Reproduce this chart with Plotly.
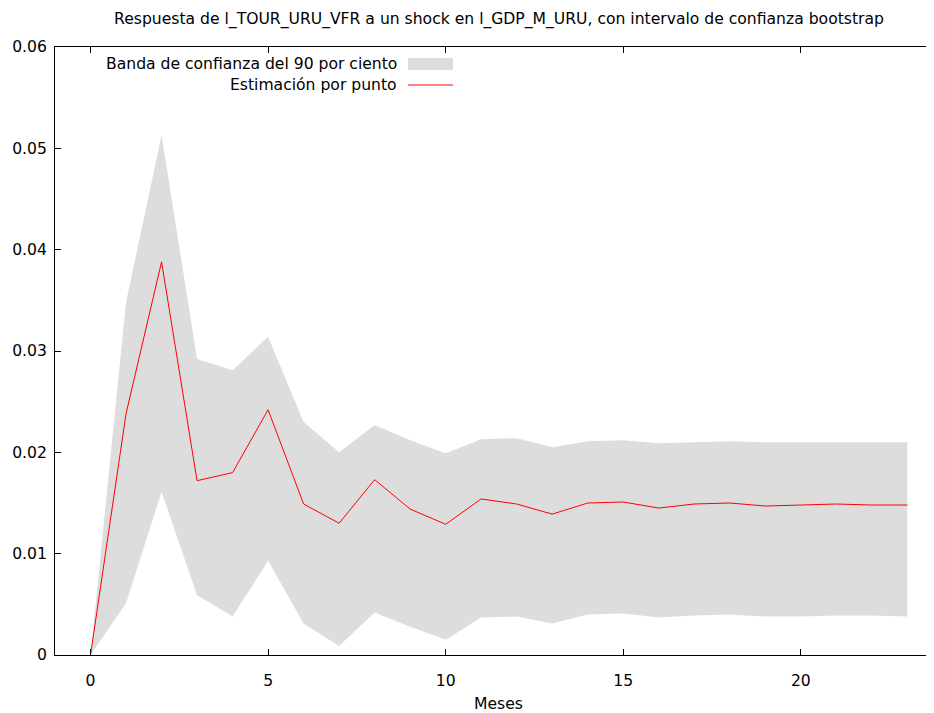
import plotly.graph_objects as go

meses = list(range(24))
estimacion = [0.0, 0.0238, 0.0388, 0.0172, 0.0180, 0.0242, 0.0149, 0.0130, 0.0173, 0.0144,
              0.0129, 0.0154, 0.0149, 0.0139, 0.0150, 0.0151, 0.0145, 0.0149, 0.0150, 0.0147,
              0.0148, 0.0149, 0.0148, 0.0148]
banda_sup = [0.0, 0.0348, 0.0513, 0.0292, 0.0281, 0.0314, 0.0230, 0.0200, 0.0227, 0.0212,
             0.0199, 0.0213, 0.0214, 0.0205, 0.0211, 0.0212, 0.0209, 0.0210, 0.0211, 0.0210,
             0.0210, 0.0210, 0.0210, 0.0210]
banda_inf = [0.0, 0.0051, 0.0161, 0.0059, 0.0038, 0.0093, 0.0031, 0.0009, 0.0042, 0.0028,
             0.0015, 0.0037, 0.0038, 0.0031, 0.0040, 0.0041, 0.0037, 0.0039, 0.0040, 0.0038,
             0.0038, 0.0039, 0.0039, 0.0038]
x_ticks = [0, 5, 10, 15, 20]
x_ticktext = ["0", "5", "10", "15", "20"]
y_ticks = [0, 0.01, 0.02, 0.03, 0.04, 0.05, 0.06]
y_ticktext = ["0", "0.01", "0.02", "0.03", "0.04", "0.05", "0.06"]

title = "Respuesta de l_TOUR_URU_VFR a un shock en l_GDP_M_URU, con intervalo de confianza bootstrap"
x_title = "Meses"
leg_band = "Banda de confianza del 90 por ciento"
leg_line = "Estimación por punto"

FONT = "DejaVu Sans"
FS = 15.6
OFF = 8  # default page body margin
W, H = 934 - OFF, 713 - OFF
ML, MR, MT, MB = 55 - OFF, 0, 47 - OFF, 58

fig = go.Figure()
fig.add_trace(go.Scatter(x=meses, y=banda_inf, mode="lines", line=dict(width=0, color="#dddddd"),
                         showlegend=False, hoverinfo="skip"))
fig.add_trace(go.Scatter(x=meses, y=banda_sup, mode="lines", line=dict(width=0, color="#dddddd"),
                         fill="tonexty", fillcolor="#dddddd", showlegend=False, hoverinfo="skip"))
fig.add_trace(go.Scatter(x=meses, y=estimacion, mode="lines", line=dict(width=1, color="#ff0000"),
                         showlegend=False))

pw = W - ML - MR
ph = H - MT - MB

def px_x(p):
    return (p - OFF - ML) / pw

def px_y(p):
    return (H - MB - (p - OFF)) / ph

# legend (gnuplot style: text right-aligned, sample on right)
fig.add_annotation(x=px_x(399), y=px_y(64), xref="paper", yref="paper", text=leg_band,
                   showarrow=False, xanchor="right", yanchor="middle",
                   font=dict(family=FONT, size=FS, color="black"))
fig.add_annotation(x=px_x(399), y=px_y(85), xref="paper", yref="paper", text=leg_line,
                   showarrow=False, xanchor="right", yanchor="middle",
                   font=dict(family=FONT, size=FS, color="black"))
fig.add_shape(type="rect", xref="paper", yref="paper", x0=px_x(408), x1=px_x(453),
              y0=px_y(70), y1=px_y(58), fillcolor="#dddddd", line=dict(width=0))
fig.add_shape(type="line", xref="paper", yref="paper", x0=px_x(408), x1=px_x(453),
              y0=px_y(85), y1=px_y(85), line=dict(color="#ff0000", width=1))
# x-axis title
fig.add_annotation(x=px_x(499), y=px_y(703.5), xref="paper", yref="paper", text=x_title,
                   showarrow=False, xanchor="center", yanchor="middle", borderpad=0,
                   font=dict(family=FONT, size=FS, color="black"))

fig.update_layout(
    width=W, height=H,
    margin=dict(l=ML, r=MR, t=MT, b=MB, autoexpand=False),
    paper_bgcolor="white", plot_bgcolor="white",
    font=dict(family=FONT, size=FS, color="black"),
    title=dict(text=title, x=(499 - OFF) / W, xanchor="center", y=1 - (19 - OFF) / H,
               yanchor="middle", xref="container", yref="container",
               font=dict(family=FONT, size=FS)),
    showlegend=False,
)
fig.update_xaxes(range=[-1, 23.75], tickvals=x_ticks, ticktext=x_ticktext, ticks="inside",
                 ticklen=6, tickcolor="black", showline=True, linecolor="black", linewidth=1,
                 mirror="ticks", showgrid=False, zeroline=False, ticklabelstandoff=11,
                 automargin=False)
fig.update_yaxes(range=[0, 0.06], tickvals=y_ticks, ticktext=y_ticktext, ticks="inside",
                 ticklen=6, tickcolor="black", showline=True, linecolor="black", linewidth=1,
                 mirror=False, showgrid=False, zeroline=False, ticklabelstandoff=4,
                 automargin=False)

fig.write_html("out.html")
